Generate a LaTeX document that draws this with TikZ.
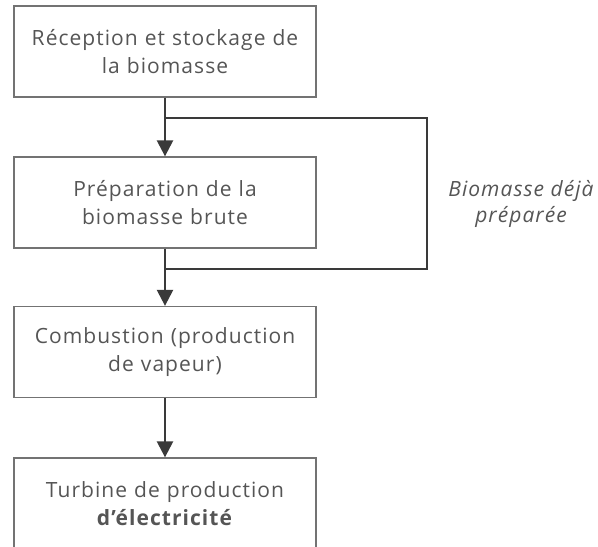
\documentclass[tikz,border=0pt]{standalone}
\usepackage{fontspec}
\setmainfont{Open Sans}[LetterSpace=5]
\usetikzlibrary{arrows.meta}
\definecolor{boxgrey}{HTML}{737373}
\definecolor{txtgrey}{HTML}{555555}
\definecolor{arrowgrey}{HTML}{3A3A3A}
\tikzset{
  stepbox/.style={draw=boxgrey,line width=1.3pt,minimum width=302pt,minimum height=91pt,
    text width=300pt,align=center,text=txtgrey,font=\fontsize{21}{28}\selectfont,inner sep=0pt},
  flow/.style={draw=arrowgrey,line width=2.4pt,-{Triangle[length=16pt,width=16pt]}},
  bypass/.style={draw=arrowgrey,line width=2.4pt}
}
\begin{document}
\begin{tikzpicture}[x=1pt,y=-1pt]
                \clip (0,0) rectangle (598,547);
                \node[stepbox] (recep) at (165,51.5) {R\'eception et stockage de\\la biomasse};
                \node[stepbox] (prep) at (165,202.5) {Pr\'eparation de la\\biomasse brute};
                \node[stepbox] (combust) at (165,352) {Combustion (production\\de vapeur)};
                \node[stepbox] (turbine) at (165,503.5) {Turbine de production\\\textbf{d'\'electricit\'e}};
                \draw[flow] (recep.south) -- (prep.north);
                \draw[flow] (prep.south) -- (combust.north);
                \draw[flow] (combust.south) -- (turbine.north);
                % raw biomass already prepared skips the preparation step
                \coordinate (split) at (165,118);
                \coordinate (merge) at (165,269);
                \draw[bypass] (split) -| (427,269) -- (merge);
                \node[text=txtgrey,font=\fontsize{21}{26}\selectfont\itshape,align=center] (deja) at (521,204) {Biomasse d\'ej\`a\\pr\'epar\'ee};
            \end{tikzpicture}
\end{document}
